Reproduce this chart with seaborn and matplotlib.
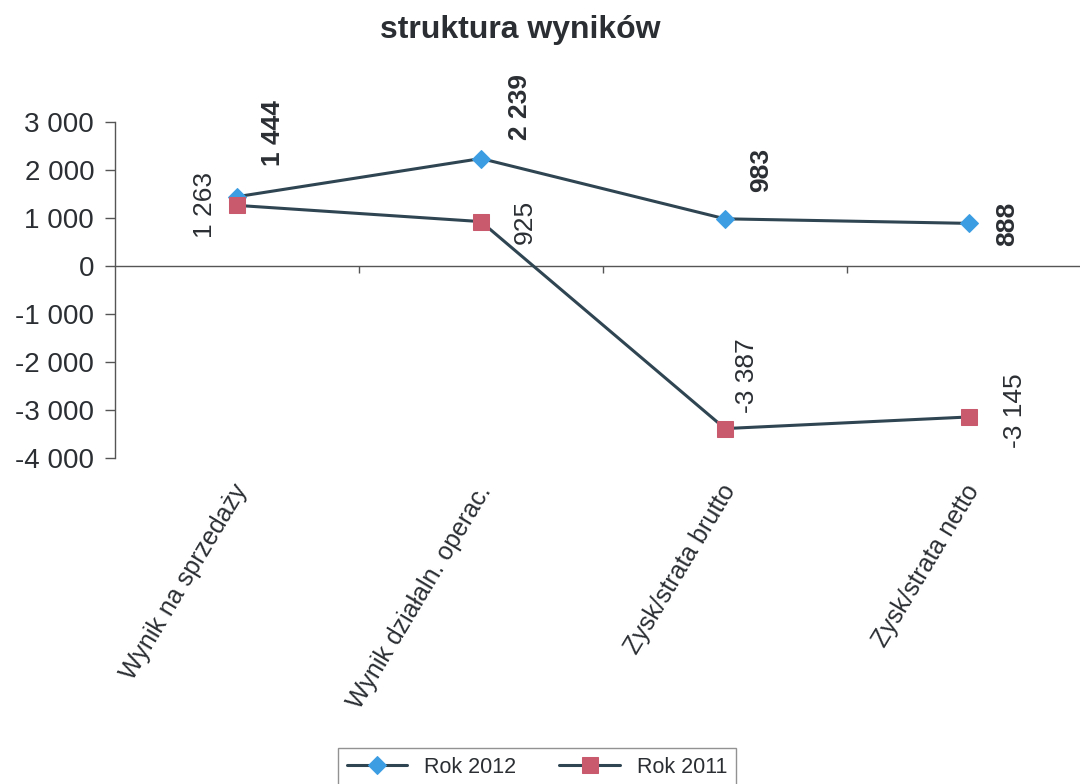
import numpy as np
import pandas as pd
import matplotlib
matplotlib.use("Agg")
import matplotlib.pyplot as plt
import matplotlib.transforms as mtransforms
import seaborn as sns

# ---- data ----
categories = ["Wynik na sprzedaży", "Wynik działaln. operac.", "Zysk/strata brutto", "Zysk/strata netto"]
rok_2012 = [1444, 2239, 983, 888]
rok_2011 = [1263, 925, -3387, -3145]
labels_2012 = ["1 444", "2 239", "983", "888"]
labels_2011 = ["1 263", "925", "-3 387", "-3 145"]
y_ticks = [3000, 2000, 1000, 0, -1000, -2000, -3000, -4000]
y_tick_labels = ["3 000", "2 000", "1 000", "0", "-1 000", "-2 000", "-3 000", "-4 000"]
title = "struktura wyników"
series_names = ["Rok 2012", "Rok 2011"]

# ---- style ----
sns.set_theme(style="white")
plt.rcParams["font.family"] = ["Liberation Sans", "DejaVu Sans"]
txt = "#2b2f33"
line_c = "#2f4552"
blue = "#3d9de3"
red = "#c95a6e"

# label offsets in pixels (dx, dy up)
off_2012 = [(36, 64), (39, 52), (36, 49), (38, 0)]
off_2011 = [(-32, 0), (44, 0), (22, 53), (46, 6)]

fig = plt.figure(figsize=(10.8, 7.84), dpi=100)
ax = fig.add_axes([115 / 1080, 1 - 458 / 784, 976 / 1080, 336 / 784])

x = np.arange(len(categories))
df12 = pd.DataFrame({"x": x, "v": rok_2012})
df11 = pd.DataFrame({"x": x, "v": rok_2011})

sns.lineplot(data=df12, x="x", y="v", ax=ax, color=line_c, lw=2.2, marker="D",
             markersize=9, markerfacecolor=blue, markeredgecolor=blue,
             label=series_names[0], zorder=3)
sns.lineplot(data=df11, x="x", y="v", ax=ax, color=line_c, lw=2.2, marker="s",
             markersize=11, markerfacecolor=red, markeredgecolor=red,
             label=series_names[1], zorder=4)

ax.set_xlim(-0.5, len(categories) - 0.5)
ax.set_ylim(-4000, 3000)
ax.set_yticks(y_ticks)
ax.set_yticklabels(y_tick_labels, fontsize=20, color=txt)
ax.set_xlabel("")
ax.set_ylabel("")

for s in ["top", "right"]:
    ax.spines[s].set_visible(False)
ax.spines["left"].set_color("#555555")
ax.spines["left"].set_linewidth(1.0)
ax.spines["bottom"].set_position(("data", 0))
ax.spines["bottom"].set_color("#555555")
ax.spines["bottom"].set_linewidth(1.0)

ax.tick_params(axis="y", which="major", direction="out", length=7, width=1,
               color="#555555", left=True, pad=8)
ax.set_xticks(x)
ax.set_xticklabels([])
ax.tick_params(axis="x", which="major", length=0, bottom=True)
ax.set_xticks(x[:-1] + 0.5, minor=True)
ax.tick_params(axis="x", which="minor", direction="out", length=5, width=1,
               color="#555555", bottom=True)

# category labels below the plot area
trans = mtransforms.blended_transform_factory(ax.transData, ax.transAxes)
for i, c in enumerate(categories):
    ax.text(i + 0.02, -0.085, c, transform=trans, rotation=59, rotation_mode="anchor",
            ha="right", va="center", fontsize=18, color=txt)

# data labels
for i in range(len(categories)):
    dx, dy = off_2012[i]
    ax.annotate(labels_2012[i], (x[i], rok_2012[i]), xytext=(dx * 0.72, dy * 0.72),
                textcoords="offset points", rotation=90, ha="center", va="center",
                fontsize=19, fontweight="bold", color=txt)
    dx, dy = off_2011[i]
    ax.annotate(labels_2011[i], (x[i], rok_2011[i]), xytext=(dx * 0.72, dy * 0.72),
                textcoords="offset points", rotation=90, ha="center", va="center",
                fontsize=19, color=txt)

fig.text(520 / 1080, 1 - 30 / 784, title, ha="center", va="center",
         fontsize=23, fontweight="bold", color=txt)

leg = ax.legend(loc="upper center", bbox_to_anchor=(537 / 1080, 1 - 748 / 784),
                bbox_transform=fig.transFigure, ncol=2, fontsize=15.5, frameon=True,
                fancybox=False, edgecolor="#777777", handlelength=2.8,
                columnspacing=2.0, borderpad=0.4, borderaxespad=0)
leg.get_frame().set_linewidth(1.0)
for t in leg.get_texts():
    t.set_color(txt)

fig.savefig("out.png", dpi=100, facecolor="white")
